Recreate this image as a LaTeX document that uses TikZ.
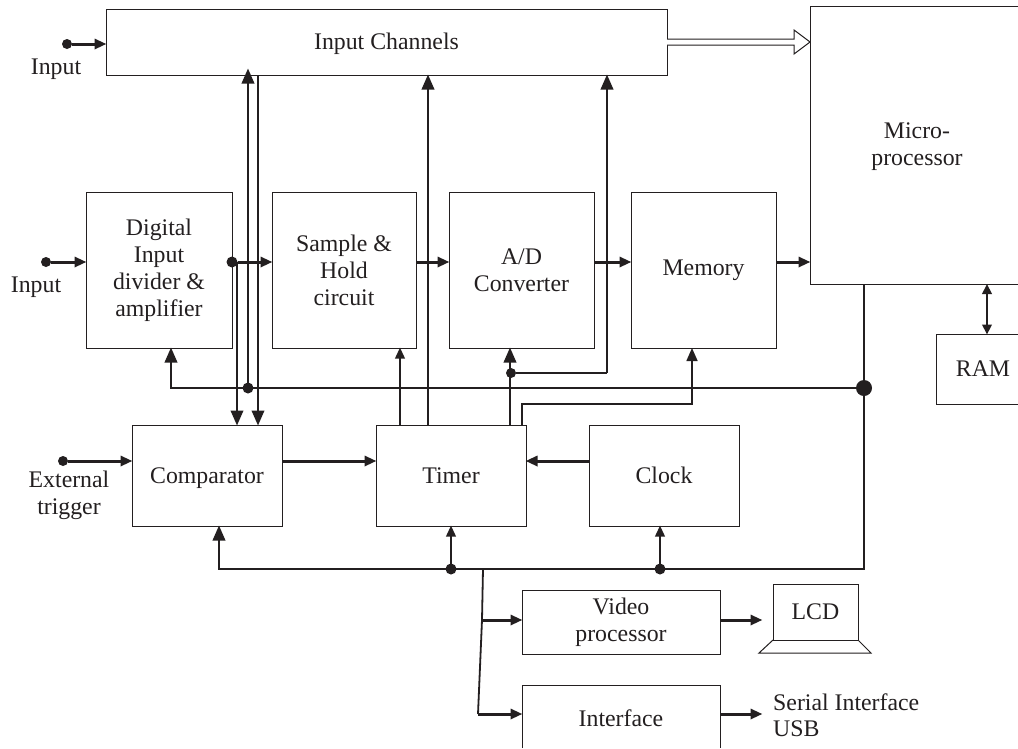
\documentclass[tikz,border=0pt]{standalone}
\usepackage{fontspec}
\setmainfont{Liberation Serif}
\usetikzlibrary{arrows.meta}
\definecolor{ink}{HTML}{231F20}
\tikzset{
  box/.style={draw=ink, line width=1pt, anchor=north west, inner sep=0pt, outer sep=0pt, align=center, text=ink,
    font=\fontsize{23.8pt}{27pt}\selectfont, minimum width=#1},
  openbox/.style={box=#1, draw=none},
  plain/.style={line width=1pt, draw=ink},
  txt/.style={inner sep=0pt, align=center, text=ink, font=\fontsize{23.8pt}{27pt}\selectfont},
  wire/.style={line width=2.1pt, draw=ink},
  thinwire/.style={line width=1.4pt, draw=ink},
  harr/.style={line width=3pt, draw=ink, -{Triangle[length=12pt,width=10pt]}, shorten >=-0.5pt},
  varr/.style={wire, -{Triangle[length=15pt,width=12.5pt]}, shorten >=-0.5pt},
  varrs/.style={wire, -{Triangle[length=11pt,width=9.5pt]}, shorten >=-0.5pt},
  dot/.style={circle, fill=ink, inner sep=0pt, outer sep=0pt, minimum size=#1},
  dot/.default=10pt
}
\begin{document}
\begin{tikzpicture}[x=1pt,y=-1pt]
\useasboundingbox[fill=white] (0,0) rectangle (1018,748);
% boxes
\node[box=561pt, minimum height=66pt] (chan) at (106,9) {\rule{0pt}{20pt}Input Channels};
\node[openbox=208pt, minimum height=278pt] (micro) at (810,6) {\rule{0pt}{20pt}\hspace*{6pt}Micro-\\\hspace*{6pt}processor};
\draw[plain] (micro.north east) -- (micro.north west) -- (micro.south west) -- (micro.south east);
\node[openbox=82pt, minimum height=70pt] (ram) at (936,334) {\hspace*{12pt}RAM};
\draw[plain] (ram.north east) -- (ram.north west) -- (ram.south west) -- (ram.south east);
\node[box=146pt, minimum height=156pt] (digital) at (86,192) {Digital\\Input\\divider \&\\amplifier};
\node[box=144pt, minimum height=156pt] (sample) at (272,192) {Sample \&\\Hold\\circuit};
\node[box=145pt, minimum height=156pt] (adc) at (449,192) {A/D\\Converter};
\node[box=145pt, minimum height=156pt] (memory) at (631,192) {Memory};
\node[box=150pt, minimum height=101pt, text depth=0pt] (comp) at (132,425) {Comparator};
\node[box=150pt, minimum height=101pt] (timer) at (376,425) {Timer};
\node[box=150pt, minimum height=101pt] (clock) at (589,425) {Clock};
\node[box=198pt, minimum height=64pt] (video) at (522,590) {Video\\processor};
\node[openbox=198pt, minimum height=63pt] (iface) at (522,685) {\rule{0pt}{20pt}Interface};
\draw[plain] (iface.south west) -- (iface.north west) -- (iface.north east) -- (iface.south east);
% LCD
\node[box=85pt, minimum height=56pt] (lcd) at (773,584) {LCD};
\draw[plain] (lcd.south west) -- (759,653) -- (871,653) -- (lcd.south east);
% texts
\node[txt] (t1) at (56,69) {Input};
\node[txt] (t2) at (36,287) {Input};
\node[txt] (t3) at (69,495) {External\\trigger};
\node[txt, anchor=west] (t4) at (773,702) {Serial Interface};
\node[txt, anchor=west] (t5) at (773,729) {USB};
% junctions
\node[dot] (in1) at (67,44) {};
\node[dot] (in2) at (46,262) {};
\node[dot] (in3) at (63,461) {};
\node[dot=11pt] (jd) at (232,262) {};
\node[dot=11pt] (jb) at (248,388) {};
\node[dot] (ja) at (511,373) {};
\node[dot=16pt] (jm) at (864,388) {};
\node[dot=11pt] (jt) at (451,569) {};
\node[dot=11pt] (jc) at (660,569) {};
\coordinate (cornerL) at (171,388);
\coordinate (cornerB) at (219,569);
\coordinate (cornerR) at (864,569);
\coordinate (split) at (483,569);
\coordinate (vtap) at (482,620);
\coordinate (itap) at (478,714);
% horizontal arrows
\draw[harr] (in1) -- (chan.west |- in1);
\draw[harr] (in2) -- (digital.west |- in2);
\draw[harr] (in3) -- (comp.west |- in3);
\draw[harr] (jd) -- (sample.west |- jd);
\draw[harr] (sample.east |- jd) -- (adc.west |- jd);
\draw[harr] (adc.east |- jd) -- (memory.west |- jd);
\draw[harr] (memory.east |- jd) -- (micro.west |- jd);
\draw[harr] (comp.east |- in3) -- (timer.west |- in3);
\draw[harr] (clock.west |- in3) -- (timer.east |- in3);
\draw[harr] (vtap) -- (video.west |- vtap);
\draw[harr] (itap) -- (iface.west |- itap);
\draw[harr] (video.east |- vtap) -- (762,620);
\draw[harr] (iface.east |- itap) -- (762,714);
% double arrow
\draw[plain, fill=white] (chan.east |- 0,39) -- (794,39) -- (794,30) -- (micro.west |- 0,42) -- (794,54) -- (794,45) -- (chan.east |- 0,45);
% verticals to input channels
\draw[varr] (jd.center -| 237,0) -- (comp.north -| 237,0);
\draw[varr] (chan.south -| 258,0) -- (comp.north -| 258,0);
\draw[varr] (jb) -- (248,69);
\draw[varrs] (timer.north -| 400,0) -- (sample.south -| 400,0);
\draw[varr] (timer.north -| 428,0) -- (chan.south -| 428,0);
\draw[varr] (timer.north -| 510,0) -- (adc.south -| 510,0);
\draw[thinwire] (ja) -- (607,373);
\draw[varr] (607,373) -- (chan.south -| 607,0);
\draw[line width=1.6pt, draw=ink, -{Triangle[length=13pt,width=11pt]}] (timer.north -| 522,0) -- (522,404) -- (692,404) -- (memory.south -| 692,0);
% buses
\draw[varr] (jm) -- (cornerL) -- (digital.south -| cornerL);
\draw[varr] (micro.south -| jm) -- (cornerR) -- (cornerB) -- (comp.south -| cornerB);
\draw[varrs] (jt) -- (timer.south -| jt);
\draw[varrs] (jc) -- (clock.south -| jc);
\draw[varr, {Triangle[length=10pt,width=9.5pt]}-{Triangle[length=10pt,width=9.5pt]}] (micro.south -| 987,0) -- (ram.north -| 987,0);
\draw[line width=1.8pt, draw=ink] (split) -- (vtap) -- (itap);
\end{tikzpicture}
\end{document}
